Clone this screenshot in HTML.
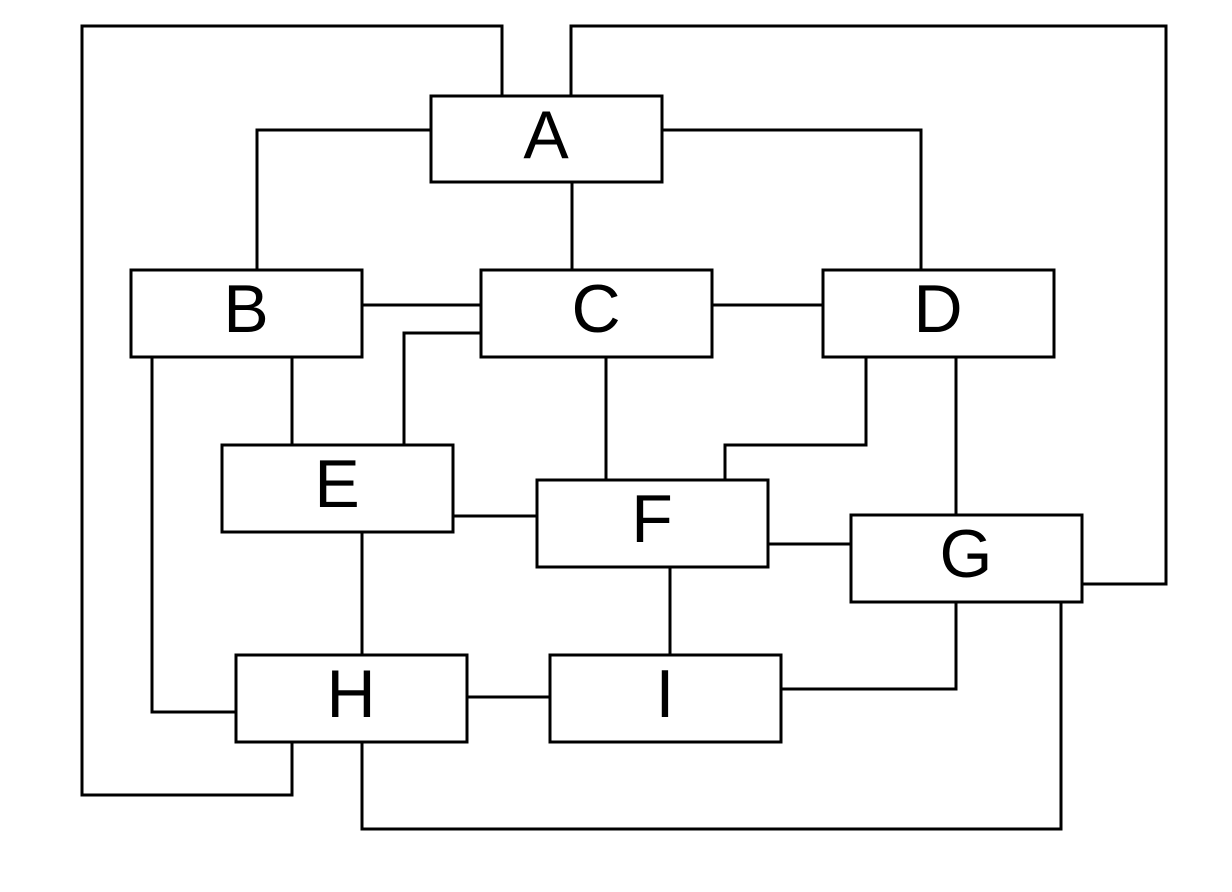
<!DOCTYPE html>
<html><head><meta charset="utf-8"><style>
html,body{margin:0;padding:0;background:#fff;width:1232px;height:892px;overflow:hidden}
svg{display:block}
text{font-family:"Liberation Sans",sans-serif;font-size:68px;text-anchor:middle;dominant-baseline:central;fill:#000}
</style></head><body>
<svg width="1232" height="892" viewBox="0 0 1232 892">
<g fill="none" stroke="#000" stroke-width="3">
<polyline points="502,96 502,26 82,26 82,795 292,795 292,742"/>
<polyline points="571,96 571,26 1166,26 1166,584 1082,584"/>
<polyline points="431,130 257,130 257,270"/>
<polyline points="662,130 921,130 921,270"/>
<polyline points="572,182 572,270"/>
<polyline points="362,305 481,305"/>
<polyline points="481,333 404,333 404,445"/>
<polyline points="712,305 823,305"/>
<polyline points="292,357 292,445"/>
<polyline points="152,357 152,712 236,712"/>
<polyline points="606,357 606,480"/>
<polyline points="866,357 866,445 725,445 725,480"/>
<polyline points="956,357 956,515"/>
<polyline points="453,516 537,516"/>
<polyline points="362,532 362,655"/>
<polyline points="768,544 851,544"/>
<polyline points="670,567 670,655"/>
<polyline points="956,602 956,689 781,689"/>
<polyline points="467,697 550,697"/>
<polyline points="362,742 362,829 1061,829 1061,602"/>
</g>
<g fill="#fff" stroke="#000" stroke-width="3">
<g><rect x="431" y="96" width="231" height="86"/><text x="546" y="135" stroke="none">A</text></g>
<g><rect x="131" y="270" width="231" height="87"/><text x="246" y="309" stroke="none">B</text></g>
<g><rect x="481" y="270" width="231" height="87"/><text x="596" y="309" stroke="none">C</text></g>
<g><rect x="823" y="270" width="231" height="87"/><text x="938" y="309" stroke="none">D</text></g>
<g><rect x="222" y="445" width="231" height="87"/><text x="337" y="484" stroke="none">E</text></g>
<g><rect x="537" y="480" width="231" height="87"/><text x="652" y="519" stroke="none">F</text></g>
<g><rect x="851" y="515" width="231" height="87"/><text x="966" y="554" stroke="none">G</text></g>
<g><rect x="236" y="655" width="231" height="87"/><text x="351" y="694" stroke="none">H</text></g>
<g><rect x="550" y="655" width="231" height="87"/><text x="665" y="694" stroke="none">I</text></g>
</g>
</svg>
</body></html>
